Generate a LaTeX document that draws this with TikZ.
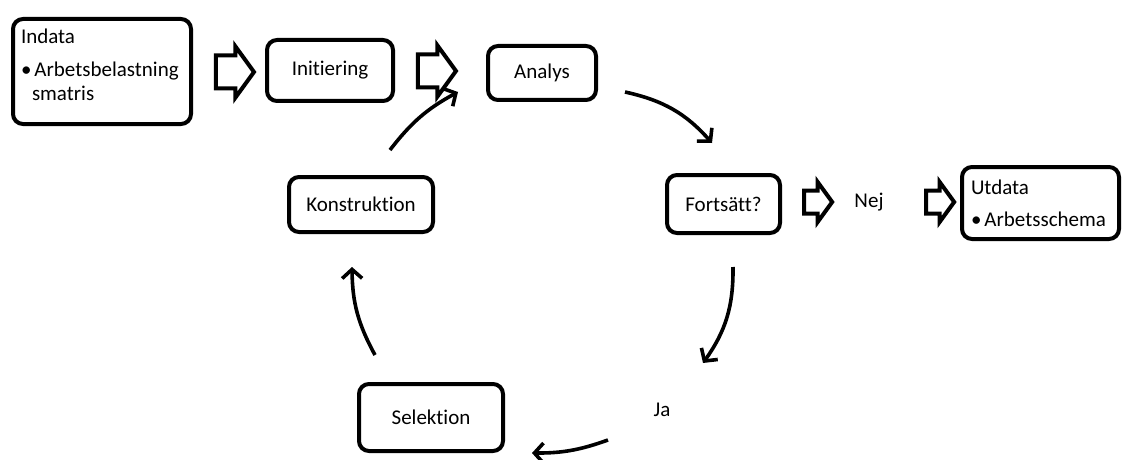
\documentclass[tikz,border=0pt]{standalone}
\usepackage{fontspec}
\setmainfont{Carlito}[Ligatures=NoCommon]
\usetikzlibrary{shapes.arrows,arrows.meta}

\begin{document}
\begin{tikzpicture}[x=1pt, y=1pt, >={Straight Barb[length=9pt,width=20pt]}, line width=3.6pt,
		every node/.style={font=\fontsize{21}{24}\selectfont},
		box/.style={draw, rounded corners=10pt, line width=4pt},
		bigarrow/.style={single arrow, draw, line width=4pt, inner xsep=0pt, inner ysep=14.5pt,
			single arrow head extend=9pt, single arrow tip angle=108, minimum height=38pt},
		smallarrow/.style={single arrow, draw, line width=4pt, inner xsep=0pt, inner ysep=9.5pt,
			single arrow head extend=8.5pt, single arrow tip angle=108, minimum height=28pt}]
				\useasboundingbox (0,0) rectangle (1128,459);
				
				% 1. 输入与初始化
				\node[box, minimum width=178, minimum height=105, text width=162, inner xsep=8pt, align=left]
					(indata) at (102,387.5) {Indata\\[9pt]•\hspace{3pt}Arbetsbelastning\\\hspace{11pt}smatris\\[-10pt]\mbox{}};
				\node[bigarrow] (pil1) at (229,387) {};
				\node[box, minimum width=126, minimum height=61] (init) at (330,388.5) {Initiering};
				\node[bigarrow] (pil2) at (431,388) {};
				
				% 2. 循环
				\node[box, minimum width=108, minimum height=54] (analys) at (542,386) {Analys};
				\node[box, minimum width=113, minimum height=58] (forts) at (723.5,255) {Fortsätt?};
				\node (ja) at (662,49) {Ja};
				\node[box, minimum width=144, minimum height=67] (sel) at (431,41.5) {Selektion};
				\node[box, minimum width=144, minimum height=55] (konstr) at (361,254.5) {Konstruktion};
				
				% 3. 输出
				\node[smallarrow] (pil3) at (814,257) {};
				\node (nej) at (869,257) {Nej};
				\node[smallarrow] (pil4) at (936,257) {};
				\node[box, minimum width=157, minimum height=72, text width=139, inner xsep=9pt, align=left]
					(utdata) at (1040.5,256) {Utdata\\[8pt]•\hspace{3pt}Arbetsschema};
				
				% 4. 弯曲箭头
				\coordinate (a1) at (625,367); \coordinate (b1) at (712,316);
				\coordinate (a2) at (733,192); \coordinate (b2) at (703,96);
				\coordinate (a3) at (608,19);  \coordinate (b3) at (532,6);
				\coordinate (a4) at (375,104); \coordinate (b4) at (352,192);
				\coordinate (a5) at (390,309); \coordinate (b5) at (458,367);
				\draw[->] (a1) to[bend left=18] (b1);
				\draw[->] (a2) to[bend left=18] (b2);
				\draw[->] (a3) to[bend left=10] (b3);
				\draw[->] (a4) to[bend left=14] (b4);
				\draw[->] (a5) to[bend left=12] (b5);
			\end{tikzpicture}
\end{document}
